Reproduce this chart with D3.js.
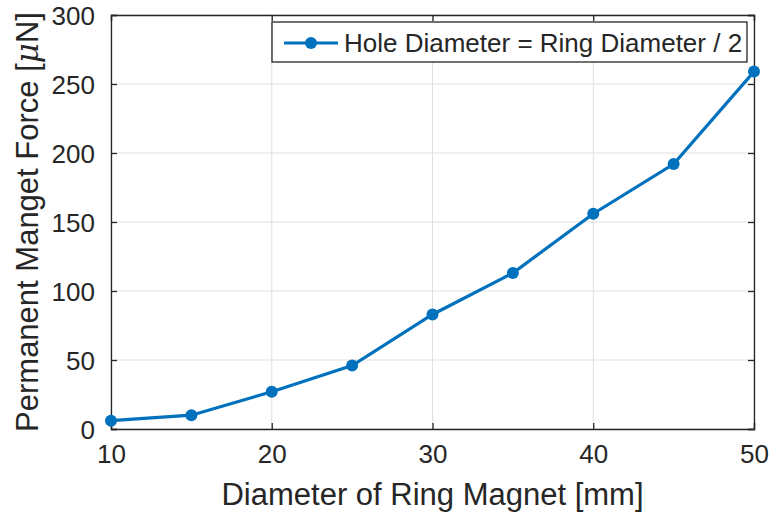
<!DOCTYPE html>
<html>
<head>
<meta charset="utf-8">
<script src="https://cdn.jsdelivr.net/npm/d3@7"></script>
<style>
  body { margin: 0; background: #fff; }
  svg { display: block; font-family: "Liberation Sans", Arial, sans-serif; }
</style>
</head>
<body>
<svg id="chart" width="771" height="519"></svg>
<script>
const diameters = [10, 15, 20, 25, 30, 35, 40, 45, 50];
const forces = [6, 10, 27, 46, 83, 113, 156, 192, 259];
const xTicks = [10, 20, 30, 40, 50];
const yTicks = [0, 50, 100, 150, 200, 250, 300];
const seriesName = "Hole Diameter = Ring Diameter / 2";

const width = 771;
const height = 519;
const margin = { top: 15, right: 17, bottom: 90, left: 111 };
const plotW = width - margin.left - margin.right;
const plotH = height - margin.top - margin.bottom;
const blue = "#0072bd";
const textColor = "#262626";

const svg = d3.select("#chart");
const g = svg.append("g").attr("transform", `translate(${margin.left},${margin.top})`);

const x = d3.scaleLinear().domain([10, 50]).range([0, plotW]);
const y = d3.scaleLinear().domain([0, 300]).range([plotH, 0]);

// grid
g.append("g")
  .selectAll("line")
  .data(xTicks)
  .enter()
  .append("line")
  .attr("x1", (d) => x(d))
  .attr("x2", (d) => x(d))
  .attr("y1", 0)
  .attr("y2", plotH)
  .attr("stroke", "#dfdfdf")
  .attr("stroke-width", 1);

g.append("g")
  .selectAll("line")
  .data(yTicks)
  .enter()
  .append("line")
  .attr("x1", 0)
  .attr("x2", plotW)
  .attr("y1", (d) => y(d))
  .attr("y2", (d) => y(d))
  .attr("stroke", "#dfdfdf")
  .attr("stroke-width", 1);

// axes, ticks pointing inwards
const xAxis = g.append("g")
  .attr("transform", `translate(0,${plotH})`)
  .call(d3.axisBottom(x).tickValues(xTicks).tickSize(-6).tickPadding(16));
const xTop = g.append("g")
  .call(d3.axisTop(x).tickValues(xTicks).tickSize(-6).tickFormat(""));
const yAxis = g.append("g")
  .call(d3.axisLeft(y).tickValues(yTicks).tickSize(-6).tickPadding(16));
const yRight = g.append("g")
  .attr("transform", `translate(${plotW},0)`)
  .call(d3.axisRight(y).tickValues(yTicks).tickSize(-6).tickFormat(""));

[xAxis, xTop, yAxis, yRight].forEach((a) => {
  a.select(".domain").attr("stroke", textColor).attr("stroke-width", 1.3);
  a.selectAll(".tick line").attr("stroke", textColor).attr("stroke-width", 1.3);
  a.selectAll(".tick text")
    .attr("fill", textColor)
    .attr("font-size", "26px")
    .attr("font-family", "Liberation Sans, Arial, sans-serif");
});
xAxis.selectAll(".tick text").attr("dy", "0.71em");
yAxis.selectAll(".tick text").attr("dy", "0.36em");

// line + markers
const line = d3.line()
  .x((d, i) => x(diameters[i]))
  .y((d) => y(d));

g.append("path")
  .datum(forces)
  .attr("d", line)
  .attr("fill", "none")
  .attr("stroke", blue)
  .attr("stroke-width", 3.2);

g.append("g")
  .selectAll("circle")
  .data(forces)
  .enter()
  .append("circle")
  .attr("cx", (d, i) => x(diameters[i]))
  .attr("cy", (d) => y(d))
  .attr("r", 6)
  .attr("fill", blue);

// legend
const legend = g.append("g").attr("transform", `translate(${272 - margin.left},${22 - margin.top})`);
legend.append("rect")
  .attr("width", 475)
  .attr("height", 40)
  .attr("fill", "#fff")
  .attr("stroke", textColor)
  .attr("stroke-width", 1.3);
legend.append("line")
  .attr("x1", 12)
  .attr("x2", 66)
  .attr("y1", 21)
  .attr("y2", 21)
  .attr("stroke", blue)
  .attr("stroke-width", 3.2);
legend.append("circle")
  .attr("cx", 39)
  .attr("cy", 21)
  .attr("r", 6)
  .attr("fill", blue);
legend.append("text")
  .attr("x", 72)
  .attr("y", 30)
  .attr("font-size", "26px")
  .attr("fill", textColor)
  .text(seriesName);

// axis titles
svg.append("text")
  .attr("x", margin.left + plotW / 2)
  .attr("y", 505)
  .attr("text-anchor", "middle")
  .attr("font-size", "31px")
  .attr("fill", textColor)
  .text("Diameter of Ring Magnet [mm]");

const yTitle = svg.append("text")
  .attr("transform", `translate(38,${margin.top + plotH / 2}) rotate(-90)`)
  .attr("text-anchor", "middle")
  .attr("font-size", "31px")
  .attr("fill", textColor);
yTitle.append("tspan").text("Permanent Manget Force [");
yTitle.append("tspan").attr("font-style", "italic").attr("font-family", "DejaVu Serif, serif").text("μ");
yTitle.append("tspan").text("N]");
</script>
</body>
</html>
